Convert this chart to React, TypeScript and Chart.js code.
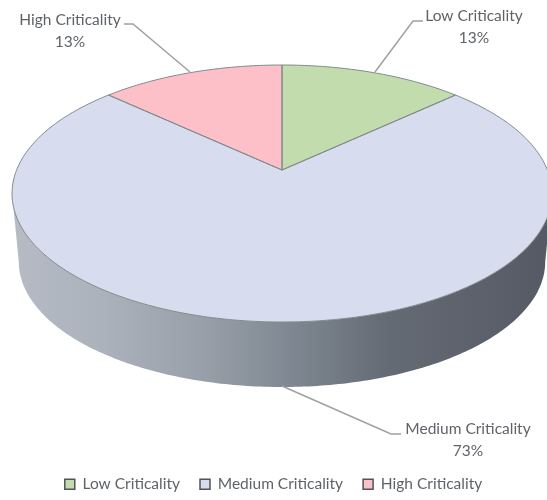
import React, { useEffect, useRef } from "react";
import { Chart, registerables } from "chart.js";

Chart.register(...registerables);

const categories = ["Low Criticality", "Medium Criticality", "High Criticality"];
const shares = [13, 73, 13];
const sliceColors = ["#c3dcae", "#d7dcef", "#fdc0c9"];

const FONT = "Lato, 'Open Sans', sans-serif";
const TEXT = "#5f6368";

// Perspective view of the pie's top face
const CX = 282, CY = 170, B = 265.4, A = 124.2, K = 0.183;
const project = (a: number, s = 1, d = 0) => {
  const u = Math.cos(a), v = -Math.sin(a), w = 1 + K * v;
  return { x: CX + (s * B * u) / w, y: CY + (s * -A * v) / w + d };
};

const calloutText = [
  { i: 2, x: 70, y: 20 },
  { i: 0, x: 474, y: 16 },
  { i: 1, x: 468, y: 429 },
];
const leaders = [
  [[190, 72], [133, 24], [124, 24]],
  [[375, 72], [413, 21], [423, 21]],
  [[282, 386], [391, 434], [401, 434]],
];

const slicePath = (ctx: any, arc: any) => {
  const { startAngle, endAngle } = arc;
  ctx.beginPath();
  ctx.moveTo(CX, CY);
  const n = Math.ceil((endAngle - startAngle) * 60);
  for (let j = 0; j <= n; j++) {
    const p = project(startAngle + ((endAngle - startAngle) * j) / n);
    ctx.lineTo(p.x, p.y);
  }
  ctx.closePath();
};

const pie3d = {
  id: "pie3d",
  beforeDatasetsDraw(chart: any) {
    const ctx = chart.ctx;
    const leftA = Math.PI - Math.asin(K);
    const rightA = Math.asin(K);
    const steps = 200;
    const g = ctx.createLinearGradient(12, 0, 547, 0);
    g.addColorStop(0, "#b6bbc4");
    g.addColorStop(0.17, "#abb2bc");
    g.addColorStop(0.35, "#99a0aa");
    g.addColorStop(0.52, "#7f8892");
    g.addColorStop(0.7, "#656b75");
    g.addColorStop(1, "#555a64");
    ctx.save();
    ctx.beginPath();
    for (let i = 0; i <= steps; i++) {
      const p = project(rightA + ((leftA - rightA) * i) / steps);
      i ? ctx.lineTo(p.x, p.y) : ctx.moveTo(p.x, p.y);
    }
    for (let i = 0; i <= steps; i++) {
      const p = project(leftA + ((rightA - leftA) * i) / steps, 0.975, 68.8);
      ctx.lineTo(p.x, p.y);
    }
    ctx.closePath();
    ctx.fillStyle = g;
    ctx.fill();
    ctx.restore();
  },
  beforeDatasetDraw(chart: any) {
    const ctx = chart.ctx;
    const arcs = chart.getDatasetMeta(0).data;
    ctx.save();
    arcs.forEach((arc: any, i: number) => {
      slicePath(ctx, arc);
      ctx.fillStyle = sliceColors[i];
      ctx.fill();
    });
    arcs.forEach((arc: any) => {
      slicePath(ctx, arc);
      ctx.strokeStyle = "#7f8a8c";
      ctx.lineWidth = 1;
      ctx.stroke();
    });
    ctx.restore();
    return false;
  },
  afterDatasetsDraw(chart: any) {
    const ctx = chart.ctx;
    ctx.save();
    ctx.strokeStyle = "#a0a0a0";
    ctx.lineWidth = 1.5;
    leaders.forEach((pts) => {
      ctx.beginPath();
      pts.forEach((p, i) => (i ? ctx.lineTo(p[0], p[1]) : ctx.moveTo(p[0], p[1])));
      ctx.stroke();
    });
    ctx.fillStyle = TEXT;
    ctx.font = `15.5px ${FONT}`;
    ctx.textAlign = "center";
    ctx.textBaseline = "middle";
    calloutText.forEach(({ i, x, y }) => {
      ctx.fillText(categories[i], x, y);
      ctx.fillText(`${shares[i]}%`, x, y + 22);
    });
    ctx.restore();
  },
};

export default function App() {
  const ref = useRef<HTMLCanvasElement>(null);
  useEffect(() => {
    document.body.style.margin = "0";
    const chart = new Chart(ref.current!, {
      type: "pie",
      data: {
        labels: categories,
        datasets: [{ data: shares, backgroundColor: sliceColors, borderColor: "#7f8a8c", borderWidth: 1 }],
      },
      options: {
        responsive: false,
        animation: false,
        layout: { padding: { bottom: -2 } },
        plugins: {
          tooltip: { enabled: false },
          legend: {
            position: "bottom",
            labels: {
              boxWidth: 10,
              boxHeight: 10,
              padding: 20,
              color: TEXT,
              font: { family: FONT, size: 15.5 },
              generateLabels(c: any) {
                return Chart.overrides.pie.plugins.legend.labels.generateLabels(c).map((l: any) => ({
                  ...l,
                  strokeStyle: "#4f5358",
                  lineWidth: 1.5,
                }));
              },
            },
          },
        },
      } as any,
      plugins: [pie3d],
    });
    return () => chart.destroy();
  }, []);
  return <canvas ref={ref} width={547} height={500} style={{ display: "block" }} />;
}
